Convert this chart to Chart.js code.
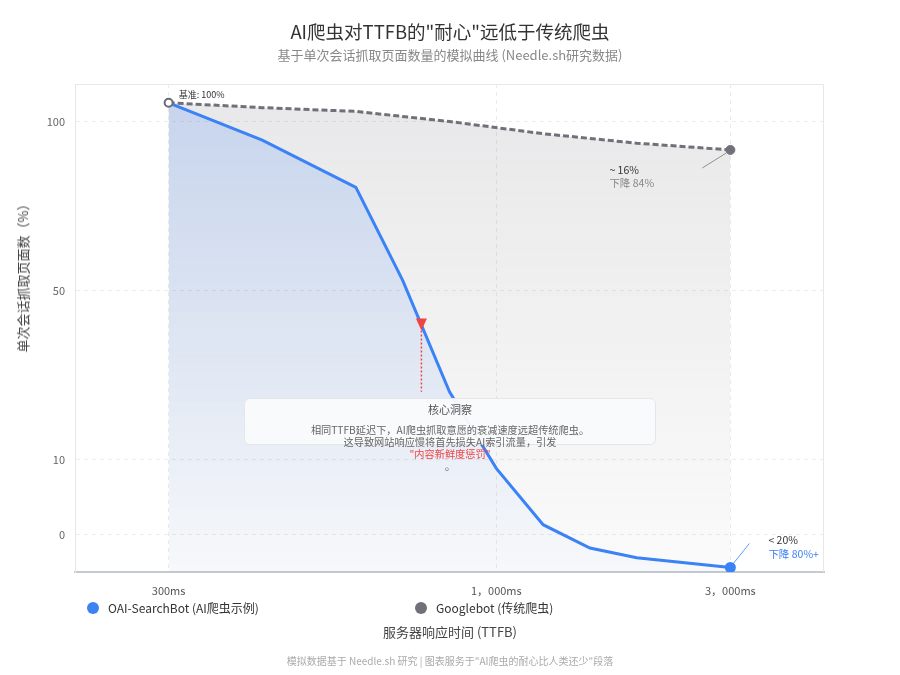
<!DOCTYPE html>
<html>
<head>
<meta charset="utf-8">
<script src="https://cdn.jsdelivr.net/npm/chart.js@4.4.1/dist/chart.umd.min.js"></script>
<style>
  body { margin: 0; background: #fff; font-family: "Noto Sans CJK SC", "Noto Sans", sans-serif; }
  #wrap { position: relative; width: 900px; height: 675px; overflow: hidden; }
  #wrap canvas { position: absolute; left: 0; top: 0; }
  .abs { position: absolute; white-space: nowrap; }
  .title { top: 19px; left: 0; width: 900px; text-align: center; font-size: 18.5px; line-height: 24px; color: #333; }
  .subtitle { top: 46px; left: 0; width: 900px; text-align: center; font-size: 13px; line-height: 18px; color: #888; }
  .ytitle { left: 23px; top: 275px; font-size: 13px; line-height: 16px; color: #444; transform: translate(-50%, -50%) rotate(-90deg); }
  .legend-item { top: 600px; font-size: 12px; line-height: 16px; color: #333; }
  .legend-item i { position: absolute; left: -21px; top: 2px; width: 12px; height: 12px; border-radius: 50%; }
  .xtitle { top: 623px; left: 0; width: 900px; text-align: center; font-size: 13px; line-height: 18px; color: #444; }
  .footer { top: 654px; left: 0; width: 900px; text-align: center; font-size: 10px; line-height: 14px; color: #aaa; }
  .insight { position: absolute; left: 244px; top: 398px; width: 412px; height: 47px; box-sizing: border-box;
             border: 1px solid #e3e6ea; border-radius: 6px; background: rgba(249, 250, 252, 0.96); }
  .insight .t { position: absolute; top: 2px; left: 0; width: 100%; text-align: center; font-size: 11px; line-height: 16px; color: #555; }
  .insight .b { position: absolute; top: 25px; left: 0; width: 100%; text-align: center; font-size: 10.2px; line-height: 12px; color: #666; white-space: nowrap; }
  .insight .b .hot { color: #ef4444; }
</style>
</head>
<body>
<div id="wrap">
  <canvas id="ttfbChart"></canvas>
  <div class="abs title">AI爬虫对TTFB的"耐心"远低于传统爬虫</div>
  <div class="abs subtitle">基于单次会话抓取页面数量的模拟曲线 (Needle.sh研究数据)</div>
  <div class="abs ytitle">单次会话抓取页面数（%）</div>
  <div class="insight">
    <div class="t">核心洞察</div>
    <div class="b">相同TTFB延迟下，AI爬虫抓取意愿的衰减速度远超传统爬虫。<br>这导致网站响应慢将首先损失AI索引流量，引发<br><span class="hot">"内容新鲜度惩罚"</span><br>。</div>
  </div>
  <div class="abs legend-item" style="left:108px"><i style="background:#3b82f6"></i>OAI-SearchBot (AI爬虫示例)</div>
  <div class="abs legend-item" style="left:436px"><i style="background:#707078"></i>Googlebot (传统爬虫)</div>
  <div class="abs xtitle">服务器响应时间 (TTFB)</div>
  <div class="abs footer">模拟数据基于 Needle.sh 研究 | 图表服务于"AI爬虫的耐心比人类还少"段落</div>
</div>
<script>
// TTFB categories (ms); the blank ones are just breathing room at both ends
const X_LABELS = ['', '', '300', '400', '500', '600', '700', '800', '900', '1000', '1400', '1800', '2200', '2600', '3000', '', ''];
const X_SHOWN = ['300', '1000', '3000'];

// pages fetched per session, % of baseline
const OAI_VALUES = [null, null, 105, null, 94.5, null, 80.5, 53, 26, 8.8, 1.3, -1.8, -3.1, null, -4.4, null, null];
const GOOGLE_VALUES = [null, null, 105, null, 103.7, null, 102.7, null, 100, null, 96.4, null, 93.6, null, 91.6, null, null];

// y axis is stretched in bands, not linear
const Y_TICKS = [0, 10, 50, 100];
const Y_BREAKS = [-5, 0, 10, 50, 100, 110];
const Y_BAND_WEIGHTS = [1, 2, 4.5, 4.5, 1];

// annotation anchors
const MARK_AT = 7.4;          // between 800ms and 900ms
const MARK_TOP = 40.5;
const MARK_BOTTOM = 26;

const blue = "#3b82f6";
const gray = "#707078";

function bandDecimal(v) {
  const total = Y_BAND_WEIGHTS.reduce((s, w) => s + w, 0);
  let acc = 0;
  for (let i = 0; i < Y_BAND_WEIGHTS.length; i++) {
    const lo = Y_BREAKS[i], hi = Y_BREAKS[i + 1];
    if (v <= hi || i === Y_BAND_WEIGHTS.length - 1) {
      return (acc + Y_BAND_WEIGHTS[i] * (v - lo) / (hi - lo)) / total;
    }
    acc += Y_BAND_WEIGHTS[i];
  }
  return 1;
}

class BandScale extends Chart.LinearScale {
  buildTicks() {
    return Y_TICKS.map(v => ({ value: v }));
  }
  getPixelForValue(value) {
    return this.getPixelForDecimal(bandDecimal(value));
  }
  getValueForPixel(pixel) {
    const d = 1 - (pixel - this.top) / this.height;
    const total = Y_BAND_WEIGHTS.reduce((s, w) => s + w, 0);
    let acc = 0;
    for (let i = 0; i < Y_BAND_WEIGHTS.length; i++) {
      const next = acc + Y_BAND_WEIGHTS[i] / total;
      if (d <= next || i === Y_BAND_WEIGHTS.length - 1) {
        return Y_BREAKS[i] + (d - acc) / (next - acc) * (Y_BREAKS[i + 1] - Y_BREAKS[i]);
      }
      acc = next;
    }
    return Y_BREAKS[Y_BREAKS.length - 1];
  }
}
BandScale.id = 'band';
BandScale.defaults = Chart.LinearScale.defaults;
Chart.register(BandScale);

function fmtMs(label) {
  const n = Number(label);
  if (n >= 1000) return Math.floor(n / 1000) + '，' + String(n % 1000).padStart(3, '0') + 'ms';
  return n + 'ms';
}

function vGradient(chart, top, bottom) {
  const a = chart.chartArea;
  if (!a) return null;
  const g = chart.ctx.createLinearGradient(0, a.top, 0, a.bottom);
  g.addColorStop(0, top);
  g.addColorStop(1, bottom);
  return g;
}

const lastIdx = 14;
const firstIdx = 2;

const overlayPlugin = {
  id: 'overlay',
  beforeDatasetsDraw(chart) {
    const { ctx, chartArea: a } = chart;
    ctx.save();
    ctx.strokeStyle = '#e6e8ec';
    ctx.lineWidth = 1;
    ctx.beginPath();
    ctx.moveTo(a.left, a.top + 0.5);
    ctx.lineTo(a.right - 0.5, a.top + 0.5);
    ctx.lineTo(a.right - 0.5, a.bottom);
    ctx.stroke();
    ctx.restore();
  },
  afterDatasetsDraw(chart) {
    const { ctx, scales: { x, y } } = chart;
    const start = chart.getDatasetMeta(1).data[firstIdx];
    const gEnd = chart.getDatasetMeta(1).data[lastIdx];
    const bEnd = chart.getDatasetMeta(0).data[lastIdx];
    ctx.save();
    ctx.textBaseline = 'middle';
    ctx.textAlign = 'left';

    // baseline label
    ctx.font = '9px "Noto Sans CJK SC", sans-serif';
    ctx.fillStyle = '#333';
    ctx.fillText('基准: 100%', start.x + 10, start.y - 8);

    // googlebot end callout
    ctx.strokeStyle = '#777';
    ctx.lineWidth = 0.8;
    ctx.beginPath();
    ctx.moveTo(gEnd.x - 28, gEnd.y + 18);
    ctx.lineTo(gEnd.x - 4, gEnd.y + 3);
    ctx.stroke();
    ctx.font = '10.5px "Noto Sans CJK SC", sans-serif';
    ctx.fillStyle = '#333';
    ctx.fillText('~ 16%', gEnd.x - 121, gEnd.y + 20);
    ctx.fillStyle = '#888';
    ctx.fillText('下降 84%', gEnd.x - 121, gEnd.y + 33);

    // oai end callout
    ctx.strokeStyle = blue;
    ctx.beginPath();
    ctx.moveTo(bEnd.x + 3, bEnd.y - 4);
    ctx.lineTo(bEnd.x + 19, bEnd.y - 24);
    ctx.stroke();
    ctx.fillStyle = '#333';
    ctx.fillText('< 20%', bEnd.x + 38, bEnd.y - 27);
    ctx.fillStyle = blue;
    ctx.fillText('下降 80%+', bEnd.x + 38, bEnd.y - 13);

    // red marker on the steep drop
    const mx = x.getPixelForValue(MARK_AT);
    const tip = y.getPixelForValue(MARK_TOP);
    const low = y.getPixelForValue(MARK_BOTTOM);
    ctx.strokeStyle = '#ef4444';
    ctx.lineWidth = 1.5;
    ctx.setLineDash([2, 2]);
    ctx.beginPath();
    ctx.moveTo(mx, tip);
    ctx.lineTo(mx, low);
    ctx.stroke();
    ctx.setLineDash([]);
    ctx.fillStyle = '#ef4444';
    ctx.beginPath();
    ctx.moveTo(mx - 5.5, tip - 12);
    ctx.lineTo(mx + 5.5, tip - 12);
    ctx.lineTo(mx, tip);
    ctx.closePath();
    ctx.fill();
    ctx.restore();
  }
};

Chart.defaults.font.family = '"Noto Sans CJK SC", "Noto Sans", sans-serif';

const canvas = document.getElementById('ttfbChart');
canvas.width = 900;
canvas.height = 675;

new Chart(canvas.getContext('2d'), {
  type: 'line',
  data: {
    labels: X_LABELS,
    datasets: [
      {
        label: 'OAI-SearchBot (AI爬虫示例)',
        data: OAI_VALUES,
        borderColor: blue,
        borderWidth: 3,
        tension: 0,
        spanGaps: true,
        fill: 'start',
        backgroundColor: c => vGradient(c.chart, 'rgba(59,130,246,0.20)', 'rgba(59,130,246,0.02)'),
        pointRadius: c => (c.dataIndex === firstIdx ? 4 : c.dataIndex === lastIdx ? 4.5 : 0),
        pointBackgroundColor: c => (c.dataIndex === firstIdx ? '#fff' : blue),
        pointBorderColor: c => (c.dataIndex === firstIdx ? '#6b6b75' : blue),
        pointBorderWidth: 2
      },
      {
        label: 'Googlebot (传统爬虫)',
        data: GOOGLE_VALUES,
        borderColor: gray,
        borderWidth: 3,
        borderDash: [6, 3],
        tension: 0,
        spanGaps: true,
        fill: 'start',
        backgroundColor: c => vGradient(c.chart, 'rgba(110,110,120,0.16)', 'rgba(110,110,120,0.03)'),
        pointRadius: c => (c.dataIndex === lastIdx ? 4.5 : 0),
        pointBackgroundColor: gray,
        pointBorderColor: gray,
        pointBorderWidth: 1
      }
    ]
  },
  options: {
    responsive: false,
    animation: false,
    layout: { padding: { top: 84, right: 76, bottom: 73, left: 0 } },
    plugins: {
      legend: { display: false },
      tooltip: { enabled: false }
    },
    scales: {
      x: {
        type: 'category',
        offset: false,
        afterFit(scale) { scale.height = 30; },
        grid: {
          drawTicks: false,
          color: c => (X_SHOWN.includes(X_LABELS[c.index]) ? '#ebebeb' : 'rgba(0,0,0,0)')
        },
        border: { color: '#c5c9d0', width: 2, dash: [4, 4] },
        ticks: {
          autoSkip: false,
          maxRotation: 0,
          padding: 12,
          color: '#555',
          font: { size: 11 },
          callback: function (value) {
            const l = X_LABELS[value];
            return X_SHOWN.includes(l) ? fmtMs(l) : '';
          }
        }
      },
      y: {
        type: 'band',
        min: Y_BREAKS[0],
        max: Y_BREAKS[Y_BREAKS.length - 1],
        afterFit(scale) { scale.width = 75; },
        grid: { drawTicks: false, color: '#ececec' },
        border: { color: '#e6e8ec', width: 1, dash: [4, 4] },
        ticks: {
          padding: 10,
          color: '#666',
          font: { size: 11 },
          callback: v => String(v)
        }
      }
    }
  },
  plugins: [overlayPlugin]
});
</script>
</body>
</html>
